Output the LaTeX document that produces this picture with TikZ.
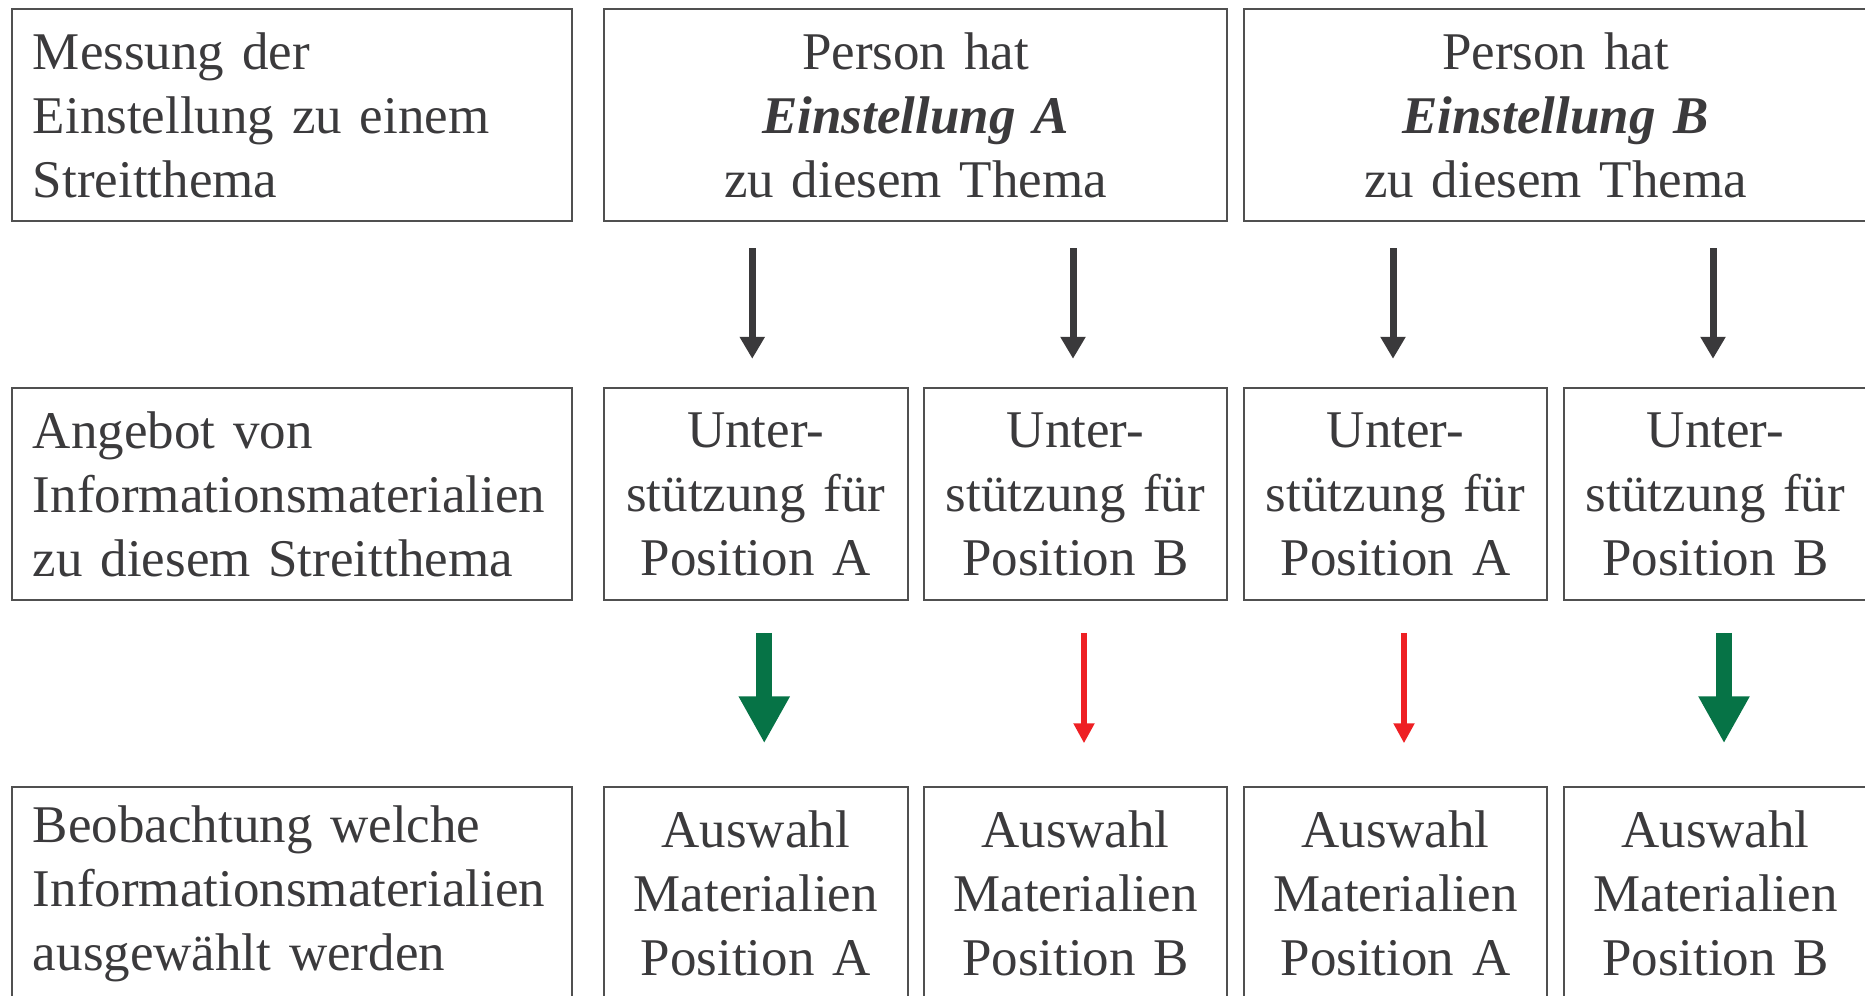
\documentclass[tikz,border=0pt]{standalone}
\usepackage{fontspec}
\setmainfont{Liberation Serif}
\usetikzlibrary{arrows.meta,calc}
\definecolor{txt}{HTML}{3B3A3C}
\definecolor{boxline}{HTML}{505050}
\definecolor{blk}{HTML}{3A393B}
\definecolor{grn}{HTML}{067346}
\definecolor{rd}{HTML}{EE2024}
\newcommand{\fsz}{\fontsize{21.2pt}{25.6pt}\selectfont\spaceskip=0.19em plus 0.05em minus 0.05em\relax}
\tikzset{
  x=0.4pt, y=-0.4pt,
  box/.style={draw=boxline, line width=0.8pt, rectangle, inner sep=0pt, text=txt, font=\fsz},
  leftbox/.style={box, minimum width=224pt, minimum height=85pt, text width=207.2pt, align=left},
  widebox/.style={box, minimum width=249.2pt, minimum height=85pt, text width=235pt, align=center},
  smallbox/.style={box, minimum width=121.4pt, minimum height=85pt, text width=115pt, align=center},
  blkarrow/.style={draw=blk, line width=2.8pt, -{Triangle[width=9.6pt,length=8.8pt]}, fill=blk},
  grnarrow/.style={draw=grn, line width=6.4pt, -{Triangle[width=19.2pt,length=18.8pt]}, fill=grn},
  rdarrow/.style={draw=rd, line width=2.6pt, -{Triangle[width=8pt,length=8pt]}, fill=rd},
}
\begin{document}
\begin{tikzpicture}
\useasboundingbox (0,0) rectangle (1865,995);
\clip (0,0) rectangle (1865,995);
% row 1
\node[leftbox] (l1) at (292,115) {Messung der\\Einstellung zu einem\\Streitthema};
\node[widebox] (tA) at (915.5,115) {Person hat\\\textbf{\textit{Einstellung A}}\\zu diesem Thema};
\node[widebox] (tB) at (1555.5,115) {Person hat\\\textbf{\textit{Einstellung B}}\\zu diesem Thema};
% row 2
\node[leftbox] (l2) at (292,494) {Angebot von\\Informationsmaterialien\\zu diesem Streitthema};
\node[smallbox] (u1) at (755.75,494) {Unter-\\stützung für\\Position A};
\node[smallbox] (u2) at (1075.5,494) {Unter-\\stützung für\\Position B};
\node[smallbox] (u3) at (1395.5,494) {Unter-\\stützung für\\Position A};
\node[smallbox] (u4) at (1715.5,494) {Unter-\\stützung für\\Position B};
% row 3
\node[leftbox] (l3) at (292,893.5) {Beobachtung welche\\Informationsmaterialien\\ausgewählt werden};
\node[smallbox] (a1) at (755.75,893.5) {Auswahl\\Materialien\\Position A};
\node[smallbox] (a2) at (1075.5,893.5) {Auswahl\\Materialien\\Position B};
\node[smallbox] (a3) at (1395.5,893.5) {Auswahl\\Materialien\\Position A};
\node[smallbox] (a4) at (1715.5,893.5) {Auswahl\\Materialien\\Position B};
% arrows row 1 -> row 2
\draw[blkarrow] ($(u1.north |- tA.south)+(-3.5,26)$) -- ($(u1.north)+(-3.5,-28)$);
\draw[blkarrow] ($(u2.north |- tA.south)+(-2.5,26)$) -- ($(u2.north)+(-2.5,-28)$);
\draw[blkarrow] ($(u3.north |- tB.south)+(-2.5,26)$) -- ($(u3.north)+(-2.5,-28)$);
\draw[blkarrow] ($(u4.north |- tB.south)+(-2.5,26)$) -- ($(u4.north)+(-2.5,-28)$);
% arrows row 2 -> row 3
\draw[grnarrow] ($(u1.south)+(8.5,31.5)$) -- ($(a1.north)+(8.5,-43)$);
\draw[rdarrow] ($(u2.south)+(8.5,31.5)$) -- ($(a2.north)+(8.5,-43)$);
\draw[rdarrow] ($(u3.south)+(8.5,31.5)$) -- ($(a3.north)+(8.5,-43)$);
\draw[grnarrow] ($(u4.south)+(8.5,31.5)$) -- ($(a4.north)+(8.5,-43)$);
\end{tikzpicture}
\end{document}
